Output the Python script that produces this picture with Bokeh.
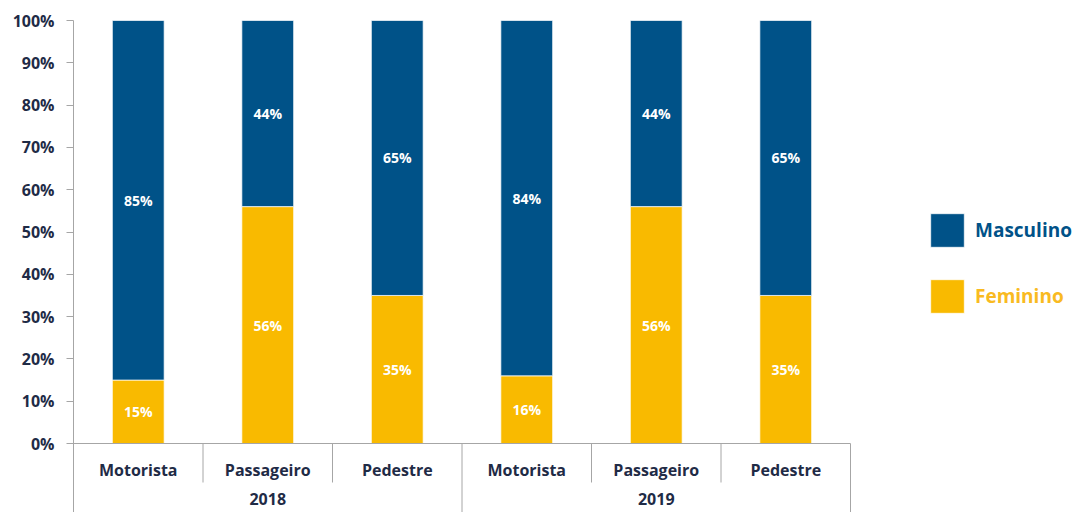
from bokeh.plotting import figure
from bokeh.models import ColumnDataSource, FixedTicker, NumeralTickFormatter, Legend, LegendItem, Range1d
from bokeh.core.properties import value
from bokeh.embed import file_html
from bokeh.resources import INLINE

anos = ["2018", "2019"]
tipos = ["Motorista", "Passageiro", "Pedestre"]
feminino = [15, 56, 35, 16, 56, 35]
masculino = [85, 44, 65, 84, 44, 65]
ticks = [0, 10, 20, 30, 40, 50, 60, 70, 80, 90, 100]

BLUE = "#005288"
YELLOW = "#F9BA00"
NAVY = "#1F2B46"
GRAY = "#A6A6A6"
FONT = "Open Sans"

categorias = [t for a in anos for t in tipos]
n = len(categorias)
x = [i + 0.5 for i in range(n)]
fem = [v / 100 for v in feminino]
masc = [v / 100 for v in masculino]

YMIN = -0.1631
XMAX = 1000 / 129.5

p = figure(width=1073, height=512, output_backend="svg", toolbar_location=None,
           x_range=Range1d(0, XMAX), y_range=Range1d(YMIN, 1.0),
           x_axis_location=None, min_border_left=73, min_border_top=20,
           min_border_right=0, min_border_bottom=0)
p.outline_line_color = None
p.grid.visible = False
p.background_fill_color = "white"

src = ColumnDataSource(dict(x=x, Feminino=fem, Masculino=masc))
rs = p.vbar_stack(["Feminino", "Masculino"], x="x", width=0.4, source=src,
                  color=[YELLOW, BLUE], line_color="white", line_width=1, line_alpha=0.7)

# data labels
fem_c = [f / 2 for f in fem]
masc_c = [f + m / 2 for f, m in zip(fem, masc)]
for yc, vals in [(fem_c, feminino), (masc_c, masculino)]:
    p.text(x=x, y=yc, text=[f"{v}%" for v in vals], text_align="center", text_baseline="middle",
           text_color="white", text_font=value(FONT), text_font_style="bold", text_font_size="14px")

# y axis
ax = p.yaxis[0]
ax.ticker = FixedTicker(ticks=[t / 100 for t in ticks])
ax.formatter = NumeralTickFormatter(format="0%")
ax.axis_line_color = GRAY
ax.major_tick_line_color = GRAY
ax.major_tick_out = 7
ax.major_tick_in = 0
ax.minor_tick_line_color = None
ax.major_label_standoff = 12
ax.major_label_text_font = FONT
ax.major_label_text_font_style = "bold"
ax.major_label_text_font_size = "16px"
ax.major_label_text_color = NAVY

# category axis drawn inside the extended frame
p.segment(x0=[0], y0=[0], x1=[n], y1=[0], line_color=GRAY, line_width=1)
sx, sy0, sy1 = [], [], []
for i in range(1, n + 1):
    sx.append(i)
    sy0.append(0)
    sy1.append(YMIN if i % len(tipos) == 0 else -0.0922)
p.segment(x0=sx, y0=sy0, x1=sx, y1=sy1, line_color=GRAY, line_width=1)
p.text(x=x, y=[-0.0638] * n, text=categorias, text_align="center", text_baseline="middle",
       text_color=NAVY, text_font=value(FONT), text_font_style="bold", text_font_size="16px")
gx = [g * len(tipos) + len(tipos) / 2 for g in range(len(anos))]
p.text(x=gx, y=[-0.131] * len(anos), text=anos, text_align="center", text_baseline="middle",
       text_color=NAVY, text_font=value(FONT), text_font_style="bold", text_font_size="16px")

# legends
for r, lab, col, loc in [(rs[1], "Masculino", BLUE, (853, 261)), (rs[0], "Feminino", "#F9BA21", (853, 195))]:
    lg = Legend(items=[LegendItem(label=lab, renderers=[r])], location=loc,
                glyph_width=42, glyph_height=42, label_standoff=7, padding=0, margin=0,
                border_line_color=None, background_fill_alpha=0,
                label_text_font=FONT, label_text_font_style="bold", label_text_font_size="19px",
                label_text_color=col, label_height=42)
    p.add_layout(lg, "center")

open("out.html", "w").write(file_html(p, INLINE))
